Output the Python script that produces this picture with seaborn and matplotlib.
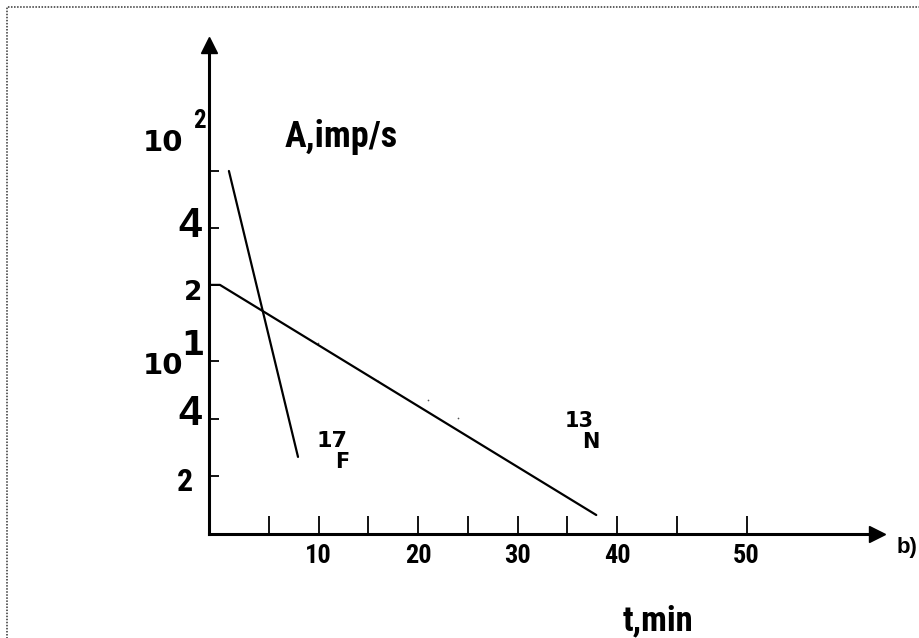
import matplotlib
matplotlib.use("Agg")
import matplotlib.pyplot as plt
from matplotlib import font_manager
from matplotlib.patches import Rectangle
import seaborn as sns
import pandas as pd

# ---------------- data (schematic units) ----------------
f17_t = [1.0, 7.94]
f17_a = [6.31, 1.34]

n13_t = [-1.0, 0.1, 37.9]
n13_a = [4.33, 4.33, 0.33]

speck_t = [9.95, 16.0, 21.0, 24.0]
speck_a = [3.32, 2.66, 2.33, 2.02]

xtick_pos = [5, 10, 15, 20, 25, 30, 35, 40, 46, 53]
xtick_labels = ["", "10", "", "20", "", "30", "", "40", "", "50"]

ytick_pos = [1.0, 2.0, 3.0, 4.33, 5.32, 6.31]
ytick_labels = ["2", "4", "", "2", "4", ""]

# ---------------- style ----------------
sns.set_theme(style="white")

available = {f.name for f in font_manager.fontManager.ttflist}
condensed_candidates = ["Liberation Sans Narrow", "Roboto Condensed",
                        "DejaVu Sans Condensed", "Open Sans Condensed",
                        "Noto Sans Display", "Roboto", "Liberation Sans"]
NARROW_NAME = next((n for n in condensed_candidates if n in available),
                   "DejaVu Sans")
NARROW = [NARROW_NAME, "DejaVu Sans"]
ARIAL = ["Liberation Sans", "DejaVu Sans"]
DEJAVU = ["DejaVu Sans"]
plt.rcParams["font.family"] = ARIAL

W, H = 920, 638
fig = plt.figure(figsize=(W / 100, H / 100), dpi=100)


def fx(px):
    return px / W


def fy(py):
    return 1 - py / H


# axes rectangle in pixels
ax_l, ax_r, ax_t, ax_b = 209, 877, 45, 534
ax = fig.add_axes([fx(ax_l), fy(ax_b), (ax_r - ax_l) / W, (ax_b - ax_t) / H])
ax.set_facecolor("none")
fig.patch.set_facecolor("white")

df_f = pd.DataFrame({"t": f17_t, "A": f17_a})
df_n = pd.DataFrame({"t": n13_t, "A": n13_a})
sns.lineplot(data=df_f, x="t", y="A", color="black", lw=1.6, sort=False,
             estimator=None, ax=ax)
sns.lineplot(data=df_n, x="t", y="A", color="black", lw=1.6, sort=False,
             estimator=None, ax=ax)
ax.scatter(speck_t, speck_a, s=1.5, color="#555555", lw=0)

ax.set_xlim(-1.0, 66.1)
ax.set_ylim(0.0, 8.50)
ax.set_xlabel("")
ax.set_ylabel("")

for s in ["top", "right"]:
    ax.spines[s].set_visible(False)
for s in ["left", "bottom"]:
    ax.spines[s].set_linewidth(2.2)
    ax.spines[s].set_color("black")

# arrow heads
ax.plot(1, 0, ">", color="black", ms=11, transform=ax.transAxes, clip_on=False)
ax.plot(0, 1, "^", color="black", ms=11, transform=ax.transAxes, clip_on=False)

# x ticks
ax.set_xticks(xtick_pos)
ax.set_xticklabels(xtick_labels, fontfamily=NARROW, fontweight="bold", fontsize=19)
ax.tick_params(axis="x", direction="in", length=13, width=1.3, color="black",
               pad=7, bottom=True, labelcolor="black")

# y ticks (labels drawn individually because of mixed sizes)
ax.set_yticks(ytick_pos)
ax.set_yticklabels([])
ax.tick_params(axis="y", direction="in", length=7.5, width=1.3, color="black",
               left=True)

ytrans = ax.get_yaxis_transform()
label_styles = [
    (NARROW, 23, -16, -15),
    (ARIAL, 30, -7, -6),
    (ARIAL, 0, 0, 0),
    (DEJAVU, 19, -7, -15),
    (ARIAL, 30, -7, -9),
    (ARIAL, 0, 0, 0),
]
for pos, lab, (fam, size, dx, dy) in zip(ytick_pos, ytick_labels, label_styles):
    if lab:
        ax.annotate(lab, xy=(0, pos), xycoords=ytrans, xytext=(dx, dy),
                    textcoords="offset pixels", ha="right", va="baseline",
                    fontsize=size, fontweight="bold", fontfamily=fam,
                    color="black", annotation_clip=False)

# decade labels 10^2 and 10^1
ax.annotate("10", xy=(0, ytick_pos[5]), xycoords=ytrans, xytext=(-26, 20),
            textcoords="offset pixels", ha="right", va="baseline", fontsize=21,
            fontweight="bold", fontfamily=DEJAVU, color="black",
            annotation_clip=False)
ax.annotate("2", xy=(0, ytick_pos[5]), xycoords=ytrans, xytext=(-10, 43),
            textcoords="offset pixels", ha="center", va="baseline", fontsize=18,
            fontweight="bold", fontfamily=NARROW, color="black",
            annotation_clip=False)
ax.annotate("10", xy=(0, ytick_pos[2]), xycoords=ytrans, xytext=(-26, -13),
            textcoords="offset pixels", ha="right", va="baseline", fontsize=21,
            fontweight="bold", fontfamily=DEJAVU, color="black",
            annotation_clip=False)
ax.annotate("1", xy=(0, ytick_pos[2]), xycoords=ytrans, xytext=(-16, 6),
            textcoords="offset pixels", ha="center", va="baseline", fontsize=24,
            fontweight="heavy", fontfamily=DEJAVU, color="black",
            annotation_clip=False)

# axis titles and labels
fig.text(fx(285), fy(147), "A,imp/s", fontsize=26, fontweight="bold",
         fontfamily=NARROW, ha="left", va="baseline", color="black")
fig.text(fx(623), fy(630), "t,min", fontsize=25, fontweight="bold",
         fontfamily=NARROW, ha="left", va="baseline", color="black")
fig.text(fx(897), fy(553), "b)", fontsize=16, fontweight="bold",
         fontfamily=ARIAL, ha="left", va="baseline", color="black")

fig.text(fx(317), fy(447), "17", fontsize=16, fontweight="bold",
         fontfamily=DEJAVU, ha="left", va="baseline", color="black")
fig.text(fx(335), fy(468), "F", fontsize=15, fontweight="bold",
         fontfamily=DEJAVU, ha="left", va="baseline", color="black")
fig.text(fx(565), fy(427), "13", fontsize=15, fontweight="bold",
         fontfamily=DEJAVU, ha="left", va="baseline", color="black")
fig.text(fx(582), fy(448), "N", fontsize=15, fontweight="bold",
         fontfamily=DEJAVU, ha="left", va="baseline", color="black")

# dotted frame
fig.patches.append(Rectangle((fx(7), -0.1), 1.2, fy(7) + 0.1,
                             transform=fig.transFigure, fill=False,
                             ls=(0, (1, 1)), lw=1.1, edgecolor="#333333"))

fig.savefig("out.png", dpi=100)
